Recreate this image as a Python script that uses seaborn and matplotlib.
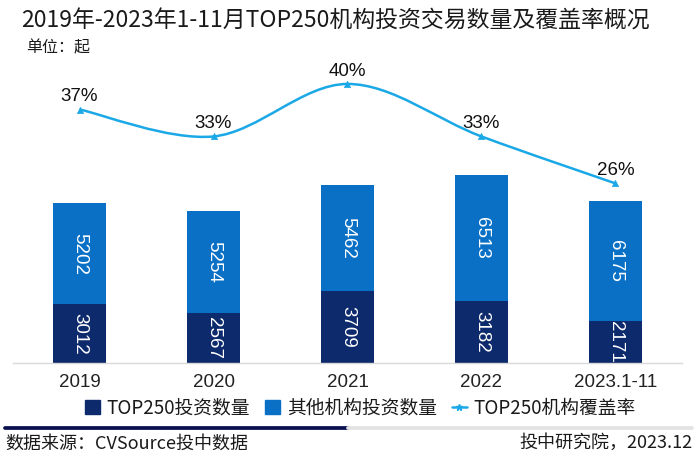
import matplotlib
matplotlib.use("Agg")
import matplotlib.pyplot as plt
from matplotlib.path import Path
from matplotlib.patches import PathPatch, Patch
from matplotlib.lines import Line2D
import seaborn as sns
import pandas as pd

# data
years = ["2019", "2020", "2021", "2022", "2023.1-11"]
top250_counts = [3012, 2567, 3709, 3182, 2171]
other_counts = [5202, 5254, 5462, 6513, 6175]
coverage_rates = [36.7, 32.8, 40.4, 32.8, 26.0]  # %

DARK = "#0c2a6c"
LIGHT = "#0a70c6"
LINE = "#1ba8e6"
NUM_FONT = ["Liberation Sans", "Noto Sans CJK SC"]

sns.set_theme(style="white")
plt.rcParams["font.family"] = ["Noto Sans CJK SC", "DejaVu Sans"]
plt.rcParams["axes.unicode_minus"] = False

df = pd.DataFrame({"year": years, "top250": top250_counts, "other": other_counts,
                   "rate": coverage_rates})
df["total"] = df["top250"] + df["other"]

fig = plt.figure(figsize=(7, 4.75), dpi=100)
ax = fig.add_axes([0.0179, 0.2358, 0.957, 0.634])

# stacked bars: full height in light blue, TOP250 part in navy on top of it
sns.barplot(data=df, x="year", y="total", color=LIGHT, width=0.4,
            saturation=1, linewidth=0, ax=ax)
sns.barplot(data=df, x="year", y="top250", color=DARK, width=0.4,
            saturation=1, linewidth=0, ax=ax)
ax.set_ylim(0, 15500)
ax.set_xlim(-0.5, len(years) - 0.5)

for i, row in df.iterrows():
    ax.text(i, row["top250"] / 2, f"{row['top250']}", rotation=270,
            ha="center", va="center", color="white", fontsize=13.5,
            family=NUM_FONT)
    ax.text(i, row["top250"] + row["other"] / 2, f"{row['other']}",
            rotation=270, ha="center", va="center", color="white",
            fontsize=13.5, family=NUM_FONT)

ax.set_xlabel("")
ax.set_ylabel("")
ax.set_yticks([])
ax.tick_params(axis="x", length=0, pad=8, labelsize=13.5, labelcolor="#222222")
for lbl in ax.get_xticklabels():
    lbl.set_family(NUM_FONT)
for side in ["top", "left", "right"]:
    ax.spines[side].set_visible(False)
ax.spines["bottom"].set_color("#d9d9d9")
ax.spines["bottom"].set_linewidth(1.0)

# coverage rate on its own scale, drawn as a smooth curve
ax2 = ax.twinx()
ax2.set_ylim(0, 43.6)
ax2.axis("off")
xs = list(range(len(years)))
pts = list(zip(xs, coverage_rates))
verts = [pts[0]]
codes = [Path.MOVETO]
for k in range(len(pts) - 1):
    p0 = pts[k - 1] if k > 0 else pts[k]
    p1, p2 = pts[k], pts[k + 1]
    p3 = pts[k + 2] if k + 2 < len(pts) else pts[k + 1]
    c1 = (p1[0] + (p2[0] - p0[0]) / 6, p1[1] + (p2[1] - p0[1]) / 6)
    c2 = (p2[0] - (p3[0] - p1[0]) / 6, p2[1] - (p3[1] - p1[1]) / 6)
    verts += [c1, c2, p2]
    codes += [Path.CURVE4] * 3
ax2.add_patch(PathPatch(Path(verts, codes), fill=False, edgecolor=LINE,
                        linewidth=1.8, transform=ax2.transData))
sns.scatterplot(x=xs, y=coverage_rates, marker="^", s=22, color=LINE,
                edgecolor=LINE, ax=ax2, zorder=5)
for x, r in zip(xs, coverage_rates):
    ax2.annotate(f"{r:.0f}%", (x, r), xytext=(0, 3), textcoords="offset points",
                 ha="center", va="bottom", fontsize=13.5, color="#111111",
                 family=NUM_FONT)

fig.text(0.03, 0.956, "2019年-2023年1-11月TOP250机构投资交易数量及覆盖率概况",
         fontsize=16.5, color="#1a1a1a", va="center", ha="left")
fig.text(0.038, 0.899, "单位：起", fontsize=11.5, color="#1a1a1a",
         va="center", ha="left")

handles = [Patch(color=DARK), Patch(color=LIGHT),
           Line2D([], [], color=LINE, marker="*", markersize=5, linewidth=1.8)]
fig.legend(handles, ["TOP250投资数量", "其他机构投资数量", "TOP250机构覆盖率"],
           loc="center", bbox_to_anchor=(0.515, 0.141), ncol=3, frameon=False,
           fontsize=13.5, handlelength=0.8, handleheight=0.8,
           handletextpad=0.35, columnspacing=0.8, labelcolor="#1a1a1a")

fig.add_artist(Line2D([5 / 700, 348 / 700], [0.099, 0.099], color="#0a0f50",
                      linewidth=2.7, transform=fig.transFigure))
fig.add_artist(Line2D([348 / 700, 692 / 700], [0.099, 0.099], color="#e3e3e3",
                      linewidth=2.7, transform=fig.transFigure))
fig.text(0.007, 0.067, "数据来源：CVSource投中数据", fontsize=13,
         color="#1a1a1a", va="center", ha="left")
fig.text(0.99, 0.067, "投中研究院，2023.12", fontsize=13,
         color="#1a1a1a", va="center", ha="right")

fig.savefig("out.png", dpi=100)
